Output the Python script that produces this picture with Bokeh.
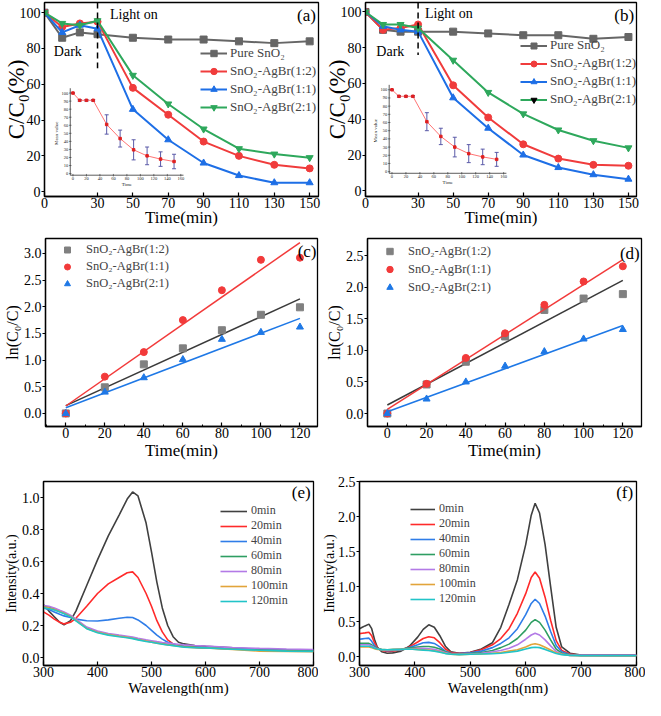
import numpy as np
from bokeh.plotting import figure
from bokeh.models import Range1d, FixedTicker, Legend, LegendItem, Label, PrintfTickFormatter
from bokeh.layouts import row, column
from bokeh.embed import file_html
from bokeh.resources import INLINE
from bokeh.core.properties import value

FONT = "Liberation Serif"

# ---------------- data: (a) / (b) degradation curves ----------------
time_ab = [0, 10, 20, 30, 50, 70, 90, 110, 130, 150]
labels_ab = ["Pure SnO₂", "SnO₂-AgBr(1:2)", "SnO₂-AgBr(1:1)", "SnO₂-AgBr(2:1)"]
a_pure = [100, 86, 89, 88, 86, 85, 85, 84, 83, 84]
a_12 = [100, 92, 94, 95, 58, 43, 28, 20, 15, 13]
a_11 = [100, 89, 93, 91, 46, 29, 16, 9, 5, 5]
a_21 = [100, 94, 93, 95.5, 65, 49, 35, 24, 21, 19]
b_pure = [100, 90, 89, 89, 89, 88, 87, 87, 85, 86]
b_12 = [100, 90, 91, 93, 59, 41, 26, 18, 14.5, 14]
b_11 = [100, 92, 90, 89, 52, 35, 20, 13, 9, 6.5]
b_21 = [100, 93, 93, 91, 73, 55, 43, 34, 28, 24]
time_ticks_ab = [0, 30, 50, 70, 90, 110, 130, 150]
pct_ticks = [0, 20, 40, 60, 80, 100]
light_on_time = 30

# insets (mean value with error bars)
inset_time = [0, 10, 20, 30, 50, 70, 90, 110, 130, 150]
a_inset_mean = [100, 91, 91, 91, 61, 43.5, 29.5, 22, 18, 15]
a_inset_err = [0, 1, 1, 1, 12, 10.5, 12.5, 11, 9, 9]
b_inset_mean = [100, 92, 92, 92, 61, 43, 30, 22, 18, 15]
b_inset_err = [0, 1, 1, 1, 11, 10, 12, 11, 9.5, 8.5]
inset_xticks = [0, 20, 40, 60, 80, 100, 120, 140, 160]
inset_yticks = [0, 10, 20, 30, 40, 50, 60, 70, 80, 90, 100]

# ---------------- data: (c) / (d) kinetics ----------------
time_cd = [0, 20, 40, 60, 80, 100, 120]
labels_cd = ["SnO₂-AgBr(1:2)", "SnO₂-AgBr(1:1)", "SnO₂-AgBr(2:1)"]
c_12 = [0, 0.49, 0.92, 1.22, 1.56, 1.85, 1.99]
c_11 = [0, 0.69, 1.15, 1.75, 2.31, 2.88, 2.92]
c_21 = [0, 0.40, 0.67, 1.01, 1.39, 1.52, 1.62]
d_12 = [0, 0.46, 0.82, 1.22, 1.64, 1.82, 1.89]
d_11 = [0, 0.47, 0.88, 1.27, 1.72, 2.09, 2.33]
d_21 = [0, 0.23, 0.50, 0.75, 0.98, 1.18, 1.33]
time_ticks_cd = [0, 20, 40, 60, 80, 100, 120]
time_minor_cd = [-10, 10, 30, 50, 70, 90, 110]
c_yticks = [0, 0.5, 1.0, 1.5, 2.0, 2.5, 3.0]
d_yticks = [0, 0.5, 1.0, 1.5, 2.0, 2.5]

# ---------------- data: (e) spectra ----------------
spec_labels = ["0min", "20min", "40min", "60min", "80min", "100min", "120min"]
wl_e = [300, 310, 320, 330, 338, 350, 360, 380, 400, 420, 440, 455, 465, 475, 490, 500,
        510, 520, 530, 540, 550, 560, 580, 600, 650, 700, 750, 800]
e_0 = [0.33, 0.29, 0.255, 0.22, 0.205, 0.23, 0.29, 0.45, 0.61, 0.76, 0.89, 0.99, 1.035, 1.01,
       0.84, 0.66, 0.47, 0.31, 0.20, 0.13, 0.095, 0.085, 0.075, 0.07, 0.06, 0.05, 0.045, 0.045]
e_20 = [0.285, 0.265, 0.24, 0.22, 0.21, 0.22, 0.245, 0.32, 0.40, 0.46, 0.50, 0.53, 0.535, 0.50,
        0.40, 0.32, 0.23, 0.16, 0.11, 0.085, 0.075, 0.07, 0.065, 0.06, 0.055, 0.045, 0.04, 0.04]
e_40 = [0.31, 0.30, 0.285, 0.27, 0.26, 0.25, 0.24, 0.23, 0.228, 0.235, 0.245, 0.252, 0.25, 0.235,
        0.20, 0.17, 0.14, 0.115, 0.095, 0.085, 0.075, 0.07, 0.065, 0.06, 0.055, 0.05, 0.045, 0.045]
e_60 = [0.32, 0.315, 0.305, 0.29, 0.28, 0.26, 0.235, 0.185, 0.16, 0.145, 0.135, 0.128, 0.122, 0.115,
        0.105, 0.098, 0.092, 0.087, 0.082, 0.078, 0.074, 0.07, 0.065, 0.062, 0.055, 0.048, 0.045, 0.042]
e_80 = [0.325, 0.32, 0.31, 0.295, 0.285, 0.265, 0.24, 0.19, 0.165, 0.15, 0.14, 0.133, 0.128, 0.12,
        0.11, 0.105, 0.099, 0.094, 0.09, 0.086, 0.082, 0.079, 0.075, 0.072, 0.062, 0.057, 0.053, 0.05]
e_100 = [0.315, 0.31, 0.3, 0.287, 0.277, 0.257, 0.232, 0.182, 0.158, 0.143, 0.133, 0.126, 0.12, 0.113,
         0.103, 0.096, 0.09, 0.084, 0.079, 0.075, 0.07, 0.066, 0.062, 0.06, 0.05, 0.04, 0.038, 0.036]
e_120 = [0.31, 0.305, 0.297, 0.284, 0.274, 0.254, 0.229, 0.18, 0.155, 0.14, 0.13, 0.123, 0.118, 0.11,
         0.1, 0.095, 0.089, 0.083, 0.078, 0.074, 0.069, 0.065, 0.061, 0.06, 0.052, 0.045, 0.04, 0.038]
e_yticks = [0, 0.2, 0.4, 0.6, 0.8, 1.0]
wl_ticks = [300, 400, 500, 600, 700, 800]

# ---------------- data: (f) spectra ----------------
wl_f = [300, 305, 310, 317, 322, 327, 332, 340, 350, 360, 375, 390, 405, 415, 425, 435, 445, 455,
        465, 480, 500, 520, 540, 555, 570, 585, 600, 610, 617, 625, 635, 645, 655, 665, 680, 700, 750, 800]
f_0 = [0.40, 0.42, 0.44, 0.465, 0.40, 0.25, 0.14, 0.07, 0.05, 0.055, 0.08, 0.15, 0.28, 0.39, 0.455,
       0.42, 0.30, 0.15, 0.07, 0.05, 0.065, 0.11, 0.20, 0.42, 0.75, 1.10, 1.60, 2.02, 2.19, 2.05,
       1.60, 1.00, 0.42, 0.14, 0.05, 0.025, 0.02, 0.02]
f_20 = [0.33, 0.335, 0.34, 0.35, 0.30, 0.20, 0.13, 0.09, 0.075, 0.08, 0.10, 0.14, 0.21, 0.26, 0.285,
        0.27, 0.20, 0.11, 0.06, 0.05, 0.06, 0.10, 0.17, 0.26, 0.40, 0.62, 0.90, 1.13, 1.21, 1.12,
        0.85, 0.52, 0.23, 0.09, 0.04, 0.02, 0.02, 0.02]
f_40 = [0.25, 0.255, 0.26, 0.265, 0.22, 0.16, 0.12, 0.095, 0.085, 0.09, 0.10, 0.13, 0.17, 0.20, 0.205,
        0.19, 0.14, 0.08, 0.05, 0.045, 0.055, 0.08, 0.13, 0.19, 0.27, 0.40, 0.60, 0.76, 0.82, 0.76,
        0.58, 0.36, 0.16, 0.07, 0.03, 0.02, 0.02, 0.02]
f_60 = [0.19, 0.19, 0.19, 0.19, 0.17, 0.14, 0.12, 0.105, 0.10, 0.105, 0.11, 0.125, 0.14, 0.145, 0.145,
        0.135, 0.11, 0.07, 0.045, 0.04, 0.045, 0.06, 0.09, 0.13, 0.18, 0.26, 0.38, 0.49, 0.53, 0.49,
        0.38, 0.24, 0.11, 0.05, 0.025, 0.02, 0.02, 0.02]
f_80 = [0.17, 0.17, 0.17, 0.17, 0.155, 0.13, 0.115, 0.10, 0.095, 0.10, 0.105, 0.115, 0.12, 0.12, 0.115,
        0.105, 0.085, 0.06, 0.04, 0.035, 0.04, 0.05, 0.07, 0.09, 0.12, 0.17, 0.25, 0.31, 0.335, 0.31,
        0.24, 0.155, 0.075, 0.04, 0.02, 0.02, 0.02, 0.02]
f_100 = [0.14, 0.14, 0.14, 0.14, 0.13, 0.115, 0.105, 0.10, 0.10, 0.10, 0.105, 0.11, 0.105, 0.10, 0.095,
         0.085, 0.07, 0.05, 0.035, 0.03, 0.035, 0.04, 0.05, 0.06, 0.08, 0.10, 0.14, 0.175, 0.185, 0.17,
         0.135, 0.095, 0.055, 0.035, 0.02, 0.015, 0.015, 0.015]
f_120 = [0.15, 0.15, 0.15, 0.15, 0.14, 0.12, 0.11, 0.10, 0.10, 0.10, 0.105, 0.11, 0.10, 0.095, 0.09,
         0.08, 0.065, 0.045, 0.035, 0.03, 0.035, 0.04, 0.045, 0.05, 0.065, 0.08, 0.11, 0.13, 0.135, 0.13,
         0.105, 0.075, 0.045, 0.03, 0.02, 0.015, 0.015, 0.015]
f_yticks = [0, 0.5, 1.0, 1.5, 2.0, 2.5]

# ---------------- styles ----------------
C_GRAY, C_RED, C_BLUE, C_GREEN = "#666666", "#f03c3c", "#1e6fe6", "#2ea85c"
SPEC_COLORS = ["#404040", "#ff2a2a", "#2f7de8", "#2e9e62", "#b37ae6", "#e2a43a", "#22c4c8"]


def base_fig(width, height, xr, yr, bl, br, bt, bb, xticks, yticks, xminor=None,
             xlabel="", ylabel="", tick_fs="14px", xl_fs="17px", yl_fs="16px",
             ylab_standoff=0, xlab_standoff=0, yfmt=None):
    p = figure(width=width, height=height, x_range=Range1d(*xr), y_range=Range1d(*yr),
               output_backend="svg", toolbar_location=None, tools="", title=None,
               min_border_left=bl, min_border_right=br, min_border_top=bt, min_border_bottom=bb)
    p.xgrid.visible = False
    p.ygrid.visible = False
    p.outline_line_color = "black"
    p.outline_line_width = 1.3
    p.outline_line_alpha = 1.0
    p.xaxis.ticker = FixedTicker(ticks=xticks, minor_ticks=xminor or [])
    p.yaxis.ticker = FixedTicker(ticks=yticks)
    if yfmt:
        p.yaxis.formatter = PrintfTickFormatter(format=yfmt)
    for ax in (p.xaxis[0], p.yaxis[0]):
        ax.axis_line_width = 1.3
        ax.axis_line_color = "black"
        ax.major_tick_line_width = 1.2
        ax.major_tick_line_color = "black"
        ax.minor_tick_line_color = "black"
        ax.major_label_text_font = FONT
        ax.major_label_text_font_size = tick_fs
        ax.major_label_text_color = "black"
        ax.axis_label_text_font = FONT
        ax.axis_label_text_font_style = "normal"
        ax.axis_label_text_color = "black"
    p.xaxis.major_tick_in = 4
    p.xaxis.major_tick_out = 0
    p.xaxis.minor_tick_in = 2
    p.xaxis.minor_tick_out = 0
    p.xaxis.major_label_standoff = 1
    p.yaxis.major_tick_in = 0
    p.yaxis.major_tick_out = 3
    p.yaxis.minor_tick_line_color = None
    p.yaxis.major_label_standoff = 1
    p.xaxis.axis_label = xlabel
    p.yaxis.axis_label = ylabel
    p.xaxis.axis_label_text_font_size = xl_fs
    p.yaxis.axis_label_text_font_size = yl_fs
    p.xaxis.axis_label_standoff = xlab_standoff
    p.yaxis.axis_label_standoff = ylab_standoff
    return p


def add_label(p, x, y, text, size, align="left"):
    p.add_layout(Label(x=x, y=y, text=text, text_font=FONT, text_font_size=size,
                       text_align=align, text_baseline="middle", text_color="black"))


def add_inset(p, xr, yr, anchor_x, anchor_y, mean, err):
    # inset drawn on extra ranges; anchors = main-data positions of inset (0,160) and (0,100)
    bx = (anchor_x[1] - anchor_x[0]) / inset_xticks[-1]
    by = (anchor_y[1] - anchor_y[0]) / inset_yticks[-1]
    p.extra_x_ranges = {"ix": Range1d((xr[0] - anchor_x[0]) / bx, (xr[1] - anchor_x[0]) / bx)}
    p.extra_y_ranges = {"iy": Range1d((yr[0] - anchor_y[0]) / by, (yr[1] - anchor_y[0]) / by)}
    kw = dict(x_range_name="ix", y_range_name="iy")
    x0, x1 = -4, 164
    y0, y1 = -2, 106
    p.segment(x0=[x0, x0], y0=[y0, y0], x1=[x0, x1], y1=[y1, y0], line_color="#333333", line_width=0.8, **kw)
    p.scatter(x=inset_xticks, y=[y0] * len(inset_xticks), marker="dash", angle=np.pi / 2, size=2.5,
              line_color="#333333", line_width=0.6, **kw)
    p.scatter(x=[x0] * len(inset_yticks), y=inset_yticks, marker="dash", size=2.5,
              line_color="#333333", line_width=0.6, **kw)
    p.text(x=inset_xticks, y=[y0] * len(inset_xticks), text=[str(t) for t in inset_xticks], y_offset=2,
           text_align="center", text_baseline="top", text_font=value(FONT), text_font_size=value("4.5px"),
           text_color="#222222", **kw)
    p.text(x=[x0] * len(inset_yticks), y=inset_yticks, text=[str(t) for t in inset_yticks], x_offset=-2,
           text_align="right", text_baseline="middle", text_font=value(FONT), text_font_size=value("4.5px"),
           text_color="#222222", **kw)
    p.text(x=[x0], y=[50], text=["Mean value"], x_offset=-11, angle=np.pi / 2, text_align="center",
           text_baseline="bottom", text_font=value(FONT), text_font_size=value("5px"), text_color="#222222", **kw)
    p.text(x=[80], y=[y0], text=["Time"], y_offset=7, text_align="center", text_baseline="top",
           text_font=value(FONT), text_font_size=value("5px"), text_color="#222222", **kw)
    m = np.array(mean, dtype=float)
    e = np.array(err, dtype=float)
    p.line(inset_time, mean, line_color="#ff5050", line_width=0.8, **kw)
    p.segment(x0=inset_time, y0=m - e, x1=inset_time, y1=m + e, line_color="#5a5aa8", line_width=1.0, **kw)
    p.scatter(x=inset_time + inset_time, y=list(m - e) + list(m + e), marker="dash", size=4,
              line_color="#5a5aa8", line_width=1.0, **kw)
    p.scatter(x=inset_time, y=mean, marker="square", size=2.5, fill_color="#e02020", line_color="#e02020", **kw)


def deg_panel(width, height, xr, yr, bl, br, bt, bb, series, legend_loc, legend_gh, dash_bottom,
              tag, dark_xy, light_xy, tag_xy, inset_anchor, inset_mean, inset_err, black_21=False):
    p = base_fig(width, height, xr, yr, bl, br, bt, bb, time_ticks_ab, pct_ticks,
                 xlabel="Time(min)", ylabel="C/C₀(%)", tick_fs="14px", xl_fs="17px", yl_fs="23px",
                 ylab_standoff=-12, xlab_standoff=-3)
    add_inset(p, xr, yr, inset_anchor[0], inset_anchor[1], inset_mean, inset_err)
    colors = [C_GRAY, C_RED, C_BLUE, C_GREEN]
    markers = ["square", "circle", "triangle", "inverted_triangle"]
    items = []
    for ys, col, mk, lab in zip(series, colors, markers, labels_ab):
        ln = p.line(time_ab, ys, line_color=col, line_width=2)
        sc = p.scatter(time_ab, ys, marker=mk, size=7, fill_color=col, line_color=col)
        rend = [ln, sc]
        if black_21 and mk == "inverted_triangle":
            # legend-only marker (off-range point) drawn in black, as in the original legend
            dummy = p.scatter(x=[-1000.0], y=[-1000.0], marker=mk, size=7, fill_color="black", line_color="black")
            rend = [ln, dummy]
        items.append(LegendItem(label=lab, renderers=rend))
    p.segment(x0=[light_on_time], y0=[yr[1]], x1=[light_on_time], y1=[dash_bottom],
              line_color="black", line_width=1.5, line_dash="6 4")
    leg = Legend(items=items, location=legend_loc, border_line_color=None, background_fill_alpha=0,
                 padding=0, margin=0, spacing=2, glyph_width=27, glyph_height=legend_gh, label_height=legend_gh,
                 label_standoff=3, label_text_font=FONT, label_text_font_size="13px")
    p.add_layout(leg)
    add_label(p, dark_xy[0], dark_xy[1], "Dark", "14px")
    add_label(p, light_xy[0], light_xy[1], "Light on", "14px")
    add_label(p, tag_xy[0], tag_xy[1], tag, "17px", align="right")
    return p


def kin_panel(width, height, xr, yr, bl, br, bt, bb, series, yticks, tag, tag_xy, leg_margin, leg_gw, leg_gh):
    p = base_fig(width, height, xr, yr, bl, br, bt, bb, time_ticks_cd, yticks, xminor=time_minor_cd,
                 xlabel="Time(min)", ylabel="ln(C₀/C)", tick_fs="14px", xl_fs="17px", yl_fs="16px",
                 ylab_standoff=0, xlab_standoff=0, yfmt="%.1f")
    pt_colors = ["#808080", "#f23a3a", "#1e78e6"]
    fit_colors = ["#3a3a3a", "#f23a3a", "#1e78e6"]
    markers = ["square", "circle", "triangle"]
    items = []
    xs = np.array(time_cd, dtype=float)
    for ys, pc, fc, mk, lab in zip(series, pt_colors, fit_colors, markers, labels_cd):
        k, b0 = np.polyfit(xs, np.array(ys, dtype=float), 1)
        fit_x = [time_cd[0], time_cd[-1]]
        p.line(fit_x, [b0 + k * fit_x[0], b0 + k * fit_x[1]], line_color=fc, line_width=1.5)
        sc = p.scatter(time_cd, ys, marker=mk, size=7, fill_color=pc, line_color=pc)
        items.append(LegendItem(label=lab, renderers=[sc]))
    leg = Legend(items=items, location="top_left", border_line_color=None, background_fill_alpha=0,
                 padding=0, margin=leg_margin, spacing=2, glyph_width=leg_gw, glyph_height=leg_gh,
                 label_height=leg_gh, label_standoff=1, label_text_font=FONT, label_text_font_size="12.5px")
    p.add_layout(leg)
    add_label(p, tag_xy[0], tag_xy[1], tag, "17px", align="right")
    return p


def spec_panel(width, height, xr, yr, bl, br, bt, bb, wl, spectra, yticks, tag, tag_xy, legend_loc, leg_gw, ylab_standoff):
    p = base_fig(width, height, xr, yr, bl, br, bt, bb, wl_ticks, yticks,
                 xlabel="Wavelength(nm)", ylabel="Intensity(a.u.)", tick_fs="14px", xl_fs="15px", yl_fs="14px",
                 ylab_standoff=ylab_standoff, xlab_standoff=0, yfmt="%.1f")
    items = []
    for ys, col, lab in zip(spectra, SPEC_COLORS, spec_labels):
        ln = p.line(wl, ys, line_color=col, line_width=1.6)
        items.append(LegendItem(label=lab, renderers=[ln]))
    leg = Legend(items=items, location=legend_loc, border_line_color=None, background_fill_alpha=0,
                 padding=0, margin=0, spacing=0, glyph_width=leg_gw, glyph_height=14, label_height=14,
                 label_standoff=4, label_text_font=FONT, label_text_font_size="12px")
    p.add_layout(leg)
    add_label(p, tag_xy[0], tag_xy[1], tag, "17px", align="right")
    return p


# ---------------- panels ----------------
xr_a, yr_a = (0, 155), (-2.7, 105.7)
xr_b, yr_b = (0, 154.6), (-3.2, 105.3)
pa = deg_panel(321, 237, xr_a, yr_a, 42, 3, 2, 41, [a_pure, a_12, a_11, a_21], (156, 81), 16, 69,
               "(a)", (5.3, 78.4), (37, 99), (153.5, 98.5),
               ((16.1, 77.1), (10.1, 55.1)), a_inset_mean, a_inset_err)
pb = deg_panel(324, 237, xr_b, yr_b, 42, 9, 2, 41, [b_pure, b_12, b_11, b_21], (155, 89), 15, 76,
               "(b)", (6.2, 77.8), (33.9, 98.9), (153.2, 98.3),
               ((15.1, 78.8), (10.7, 56.5)), b_inset_mean, b_inset_err, black_21=True)

pc = kin_panel(322, 229, (-10.4, 129), (-0.245, 3.28), 41, 5, 1, 40, [c_12, c_11, c_21], c_yticks,
               "(c)", (128.5, 3.04), 4, 36, 15)
pd = kin_panel(323, 229, (-10.1, 129.5), (-0.205, 2.77), 41, 4, 1, 40, [d_12, d_11, d_21], d_yticks,
               "(d)", (128.6, 2.54), 5, 35, 16)

pe = spec_panel(318, 234, (300, 800), (-0.05, 1.1), 38, 5, 15, 35, wl_e,
                [e_0, e_20, e_40, e_60, e_80, e_100, e_120], e_yticks, "(e)", (794.7, 1.03), (177, 57), 27, 0)
pf = spec_panel(327, 234, (300, 800), (-0.125, 2.5), 38, 9, 15, 35, wl_f,
                [f_0, f_20, f_40, f_60, f_80, f_100, f_120], f_yticks, "(f)", (794, 2.34), (51, 59), 25, -2)

layout = column(row(pa, pb), row(pc, pd), row(pe, pf))
open("out.html", "w").write(file_html(layout, INLINE))
